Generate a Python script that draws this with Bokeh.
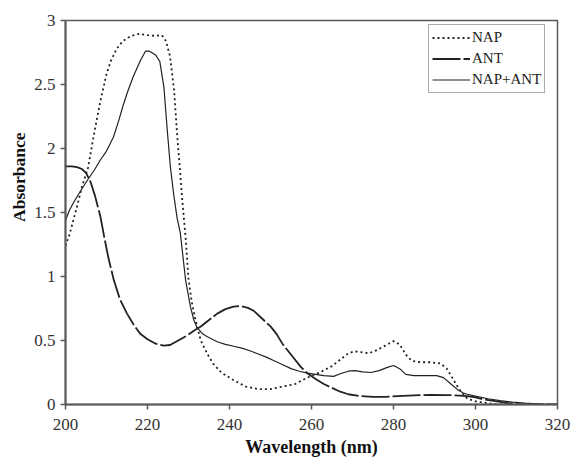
from bokeh.plotting import figure
from bokeh.embed import file_html
from bokeh.resources import INLINE
from bokeh.models import Legend, LegendItem, Title, FixedTicker

# NAP (dotted)
nap_wl = [200, 201, 202, 203, 204, 205.5, 207, 208.5, 210, 211, 212.5, 214, 216, 218, 220, 222, 223.5,
          224.5, 225.5, 226.5, 227.2, 228, 228.5, 229.3, 230, 230.8, 231.7, 233, 234.5, 236, 238, 241,
          244, 247, 250, 253, 256, 259, 262, 265, 267, 269, 270.5, 272, 274, 276, 278, 280, 281.5, 283,
          284.5, 286.5, 289, 291.5, 293, 294.5, 296, 298, 300, 302, 304, 306, 308]
nap_abs = [1.24, 1.33, 1.45, 1.57, 1.70, 1.85, 2.12, 2.37, 2.58, 2.68, 2.78, 2.84, 2.88, 2.895, 2.885, 2.88, 2.885,
           2.84, 2.72, 2.45, 2.12, 1.80, 1.59, 1.30, 0.98, 0.80, 0.66, 0.50, 0.40, 0.32, 0.25, 0.19,
           0.14, 0.12, 0.12, 0.14, 0.16, 0.21, 0.25, 0.30, 0.35, 0.40, 0.415, 0.41, 0.40, 0.425, 0.46, 0.495, 0.47, 0.39,
           0.34, 0.33, 0.33, 0.32, 0.28, 0.20, 0.12, 0.045, 0.025, 0.015, 0.005, 0.0, 0.0]

# ANT (dashed)
ant_wl = [200, 201.5, 202.8, 204, 205, 206.1, 207.2, 208.5, 209.5, 210.5, 211.8, 213.3, 215, 216.7, 218.3,
          220, 222, 224, 225.5, 227.5, 229.7, 231.5, 233, 235, 237, 239, 241, 242.7, 244.5, 246, 248, 250,
          251.5, 253, 254.5, 256, 257.5, 259, 261, 263, 265, 267, 269, 272, 275, 278, 281, 285, 289, 293,
          296, 298, 300, 302, 304, 306, 308, 311, 315, 320]
ant_abs = [1.86, 1.86, 1.855, 1.84, 1.81, 1.74, 1.63, 1.47, 1.30, 1.14, 0.97, 0.82, 0.71, 0.62, 0.55,
           0.51, 0.475, 0.46, 0.465, 0.50, 0.54, 0.58, 0.61, 0.66, 0.71, 0.745, 0.765, 0.77, 0.755, 0.73, 0.67, 0.61,
           0.55, 0.47, 0.41, 0.35, 0.29, 0.245, 0.20, 0.16, 0.13, 0.10, 0.08, 0.065, 0.06, 0.06, 0.065, 0.072, 0.075, 0.074,
           0.07, 0.065, 0.055, 0.04, 0.03, 0.02, 0.01, 0.0, 0.0, 0.0]

# NAP+ANT (solid)
mix_wl = [200, 201, 202, 203.7, 205.3, 207, 208.5, 210, 211.7, 213, 214, 215, 216.5, 218.3, 219.5, 220.5,
          222, 223, 224, 224.8, 225.6, 226.4, 227.2, 228, 229.3, 230.5, 231.3, 232.1, 233.5, 234.6, 237, 239,
          241, 243, 245, 247, 249, 251, 253, 255, 257, 259, 261, 263, 265.4, 267, 269, 270.5, 272.5, 274.5,
          276.5, 278.5, 280, 281.5, 283, 285, 288, 290.5, 292.2, 294, 295.5, 297, 298, 300, 303, 306, 309,
          312, 316, 320]
mix_abs = [1.44, 1.52, 1.58, 1.67, 1.75, 1.83, 1.91, 1.98, 2.09, 2.22, 2.33, 2.43, 2.56, 2.69, 2.76, 2.76,
           2.73, 2.68, 2.48, 2.15, 1.85, 1.64, 1.46, 1.34, 0.97, 0.76, 0.66, 0.60, 0.55, 0.53, 0.49, 0.47,
           0.455, 0.44, 0.42, 0.395, 0.37, 0.34, 0.31, 0.28, 0.26, 0.245, 0.235, 0.225, 0.22, 0.24, 0.26, 0.265, 0.255, 0.25,
           0.265, 0.29, 0.305, 0.28, 0.235, 0.225, 0.225, 0.225, 0.21, 0.16, 0.12, 0.09, 0.08, 0.065, 0.045, 0.03, 0.018,
           0.01, 0.004, 0.0]

x_ticks = [200, 220, 240, 260, 280, 300, 320]
y_ticks = [0, 0.5, 1, 1.5, 2, 2.5, 3]
y_tick_labels = {0: "0", 0.5: "0.5", 1: "1", 1.5: "1.5", 2: "2", 2.5: "2.5", 3: "3"}

FONT = "Liberation Serif"
AX = "#5a5a5a"

p = figure(width=576, height=462, output_backend="svg", toolbar_location=None,
           x_range=(200, 320), y_range=(0, 3),
           min_border_left=65, min_border_right=19, min_border_top=20, min_border_bottom=58)
p.background_fill_color = "white"
p.border_fill_color = "white"
p.outline_line_color = AX
p.outline_line_width = 1.5
p.grid.visible = False

l_nap = p.line(nap_wl, nap_abs, line_color="#222222", line_width=1.8, line_dash="2 3")
l_ant = p.line(ant_wl, ant_abs, line_color="#222222", line_width=1.8, line_dash="28 3")
l_mix = p.line(mix_wl, mix_abs, line_color="#222222", line_width=1.2)

for ax in (p.xaxis[0], p.yaxis[0]):
    ax.axis_line_color = AX
    ax.axis_line_width = 2
    ax.major_tick_line_color = AX
    ax.major_tick_line_width = 1.5
    ax.major_tick_out = 5
    ax.major_tick_in = 0
    ax.minor_tick_line_color = None
    ax.major_label_text_font = FONT
    ax.major_label_text_font_size = "17px"
    ax.major_label_text_color = "#333333"
    ax.major_label_standoff = 5

p.xaxis.major_label_standoff = 9
p.xaxis.ticker = FixedTicker(ticks=x_ticks)
p.yaxis.ticker = FixedTicker(ticks=y_ticks)
p.yaxis.major_label_overrides = y_tick_labels

p.xaxis.axis_label = "Wavelength (nm)"
p.xaxis.axis_label_text_font = FONT
p.xaxis.axis_label_text_font_size = "18px"
p.xaxis.axis_label_text_font_style = "bold"
p.xaxis.axis_label_text_color = "#111111"
p.xaxis.axis_label_standoff = 4

ytitle = Title(text="Absorbance", align="right", offset=112,
               text_font=FONT, text_font_size="17.5px", text_font_style="bold",
               text_color="#111111", standoff=6)
p.add_layout(ytitle, "left")

legend = Legend(items=[LegendItem(label="NAP", renderers=[l_nap]),
                       LegendItem(label="ANT", renderers=[l_ant]),
                       LegendItem(label="NAP+ANT", renderers=[l_mix])],
                location=(363, 311))
legend.label_text_font = FONT
legend.label_text_font_size = "15px"
legend.label_text_color = "#222222"
legend.glyph_width = 38
legend.glyph_height = 19
legend.label_height = 19
legend.label_standoff = 2
legend.padding = 3
legend.spacing = 2
legend.margin = 0
legend.border_line_color = AX
legend.border_line_width = 1.2
legend.background_fill_alpha = 1.0
p.add_layout(legend)

open("out.html", "w").write(file_html(p, INLINE))
